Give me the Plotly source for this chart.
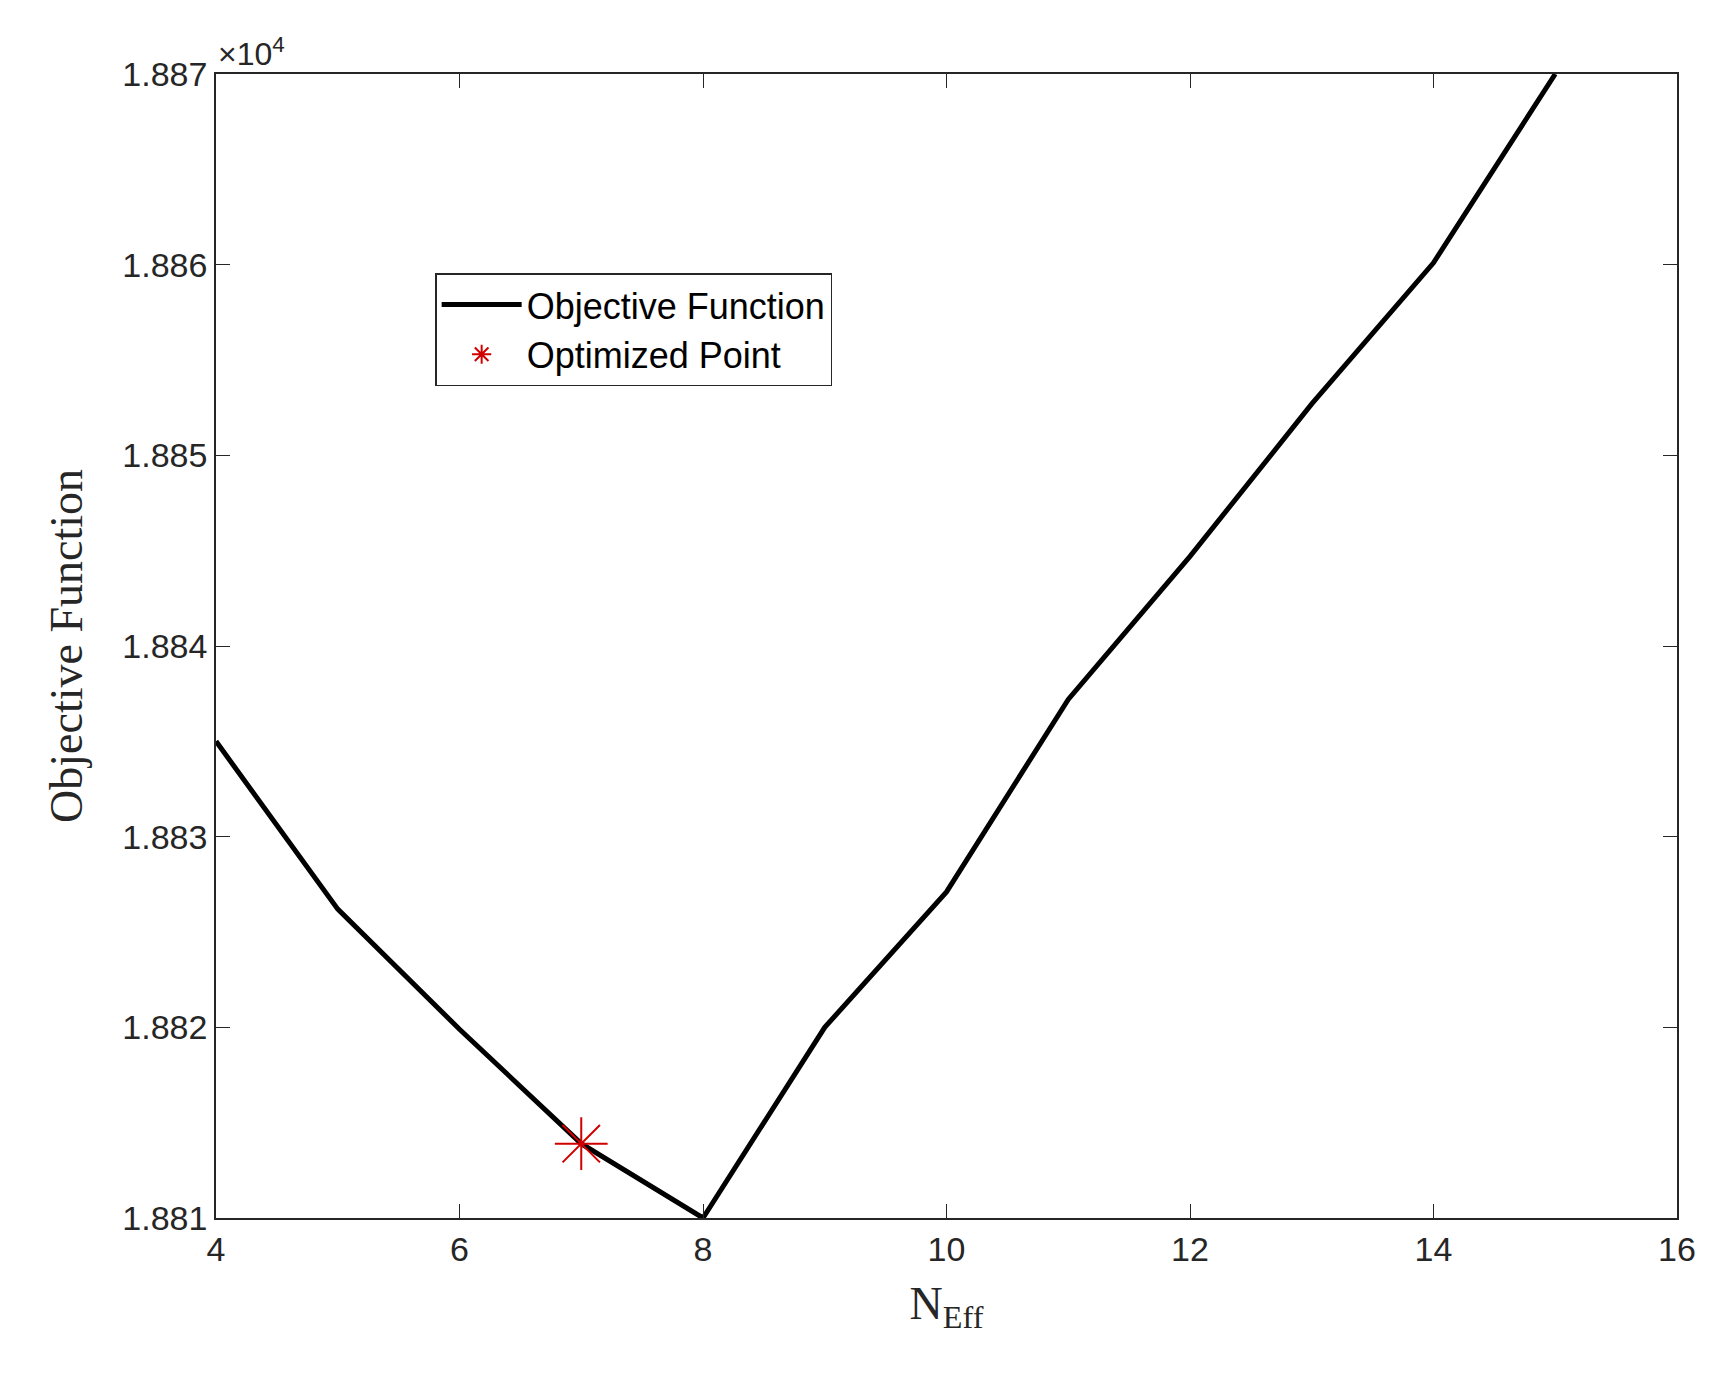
import plotly.graph_objects as go

n_eff = [4, 5, 6, 7, 8, 9, 10, 11, 12, 13, 14, 15]
objective = [1.8835, 1.88262, 1.88199, 1.88139, 1.8810, 1.8820, 1.88271, 1.88372, 1.88447, 1.88527, 1.88601, 1.8870]
opt_x = [7]
opt_y = [1.88139]

fig = go.Figure()
fig.add_trace(go.Scatter(x=n_eff, y=objective, mode="lines", name="Objective Function",
                         line=dict(color="black", width=5)))
fig.add_trace(go.Scatter(x=opt_x, y=opt_y, mode="markers", name="Optimized Point",
                         marker=dict(symbol="asterisk-open", size=44, color="#d00000",
                                     line=dict(color="#d00000", width=2))))
axis_common = dict(showline=True, linecolor="#262626", linewidth=1.5, mirror="ticks",
                   ticks="inside", ticklen=14, tickcolor="#262626", showgrid=False,
                   zeroline=False, tickfont=dict(family="Liberation Sans", size=34, color="#262626"))
fig.update_xaxes(range=[4, 16], dtick=2, **axis_common,
                 title=dict(text="N<sub>Eff</sub>", font=dict(family="Liberation Serif", size=46, color="#262626"), standoff=20))
fig.update_yaxes(range=[1.881, 1.887], dtick=0.001, tickformat=".3f", **axis_common,
                 title=dict(text="Objective Function", font=dict(family="Liberation Serif", size=46, color="#262626"), standoff=25))
fig.add_annotation(xref="paper", yref="paper", x=0.0, y=1.0, xanchor="left", yanchor="bottom",
                   text="×10<sup>4</sup>", showarrow=False,
                   font=dict(family="Liberation Sans", size=32, color="#262626"))
fig.update_layout(width=1719, height=1400, paper_bgcolor="white", plot_bgcolor="white",
                  margin=dict(l=208, r=50, t=66, b=190),
                  legend=dict(x=0.15, y=0.826, xanchor="left", yanchor="top", itemwidth=80,
                              bordercolor="#262626", borderwidth=1.5, bgcolor="white",
                              font=dict(family="Liberation Sans", size=36, color="black")))
fig.write_html("out.html")
